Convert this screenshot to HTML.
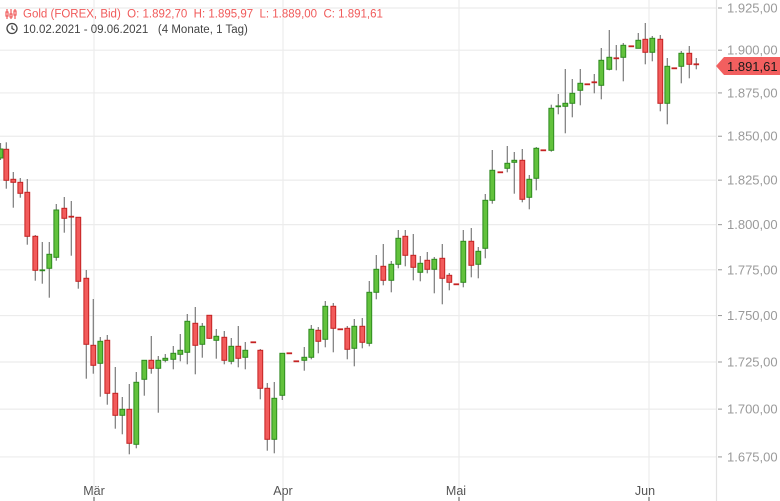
<!DOCTYPE html>
<html><head><meta charset="utf-8"><style>
html,body{margin:0;padding:0;background:#fff;}
svg{display:block;font-family:"Liberation Sans",sans-serif;}
</style></head><body>
<svg id="c" width="780" height="501" viewBox="0 0 780 501" xmlns="http://www.w3.org/2000/svg">
<g id="grid" stroke="#ececec" stroke-width="1.2"></g>
<line x1="716.5" y1="0" x2="716.5" y2="501" stroke="#e2e2e2" stroke-width="1.2"/>
<g id="candles"></g>
<g id="axis" font-size="13" fill="#9a9a9a"></g>
<g font-size="12.5" fill="#555" text-anchor="middle">
<text x="94" y="495">Mär</text><text x="283" y="495">Apr</text><text x="456" y="495">Mai</text><text x="645" y="495">Jun</text>
</g>
<g stroke="#555" stroke-width="1"><line x1="94" y1="497" x2="94" y2="501"/><line x1="283" y1="497" x2="283" y2="501"/><line x1="459" y1="497" x2="459" y2="501"/><line x1="649" y1="497" x2="649" y2="501"/></g>
<polygon points="716,66 724,57 780,57 780,75 724,75" fill="#f25f5f"/>
<text x="727" y="71" font-size="13" fill="#1a1a1a">1.891,61</text>
<g stroke="#f05a5a" stroke-width="1.2" fill="none">
<line x1="7" y1="9" x2="7" y2="19"/><line x1="11" y1="9" x2="11" y2="19"/><line x1="15" y1="9" x2="15" y2="19"/>
<rect x="6" y="12" width="2" height="4" fill="#fff"/><rect x="10" y="14" width="2" height="3" fill="#fff"/><rect x="14" y="11" width="2" height="4" fill="#fff"/>
</g>
<text x="23" y="17.5" font-size="11.5" fill="#f05a5a">Gold (FOREX, Bid)&#160; O: 1.892,70&#160; H: 1.895,97&#160; L: 1.889,00&#160; C: 1.891,61</text>
<circle cx="12" cy="28.5" r="5" fill="none" stroke="#444" stroke-width="1.3"/>
<polyline points="12,25.5 12,28.5 14.5,30" fill="none" stroke="#444" stroke-width="1.2"/>
<text x="23" y="33" font-size="11.5" fill="#444">10.02.2021 - 09.06.2021&#160;&#160; (4 Monate, 1 Tag)</text>
</svg>
<script>
var NS="http://www.w3.org/2000/svg";
function el(p,n,a){var e=document.createElementNS(NS,n);for(var k in a)e.setAttribute(k,a[k]);p.appendChild(e);return e;}
var grid=document.getElementById("grid"),axis=document.getElementById("axis");
for(var i=0;i<11;i++){var p=1925-25*i;var y=8+3227*Math.log(1925/p);
el(grid,"line",{x1:0,y1:y,x2:716,y2:y});
el(axis,"line",{x1:718,y1:y,x2:722,y2:y,stroke:"#999","stroke-width":1});
var t=el(axis,"text",{x:727,y:y+4.5});t.textContent="1."+String(p).slice(1)+",00";}
[94,283,459,649].forEach(function(x){el(grid,"line",{x1:x,y1:0,x2:x,y2:501});});
var D=[
[0.5,149,158,143,160,'g'],[6.3,149.3,180.3,142.3,188.7,'r'],[13.3,179.3,182.3,172,207.7,'r'],[20.3,182.3,193.3,178,197.7,'r'],
[27.3,192.3,236.3,179,244.7,'r'],[35.3,236.3,270.3,235,280.7,'r'],[42.3,270.3,270.3,242,283.7,'g'],[49.3,254.3,268.3,242,297.7,'g'],
[56.3,210,257.3,204,260.7,'g'],[64.3,208.3,218.3,197,232.7,'r'],[71.3,216.7,216.7,201,255.7,'r'],[78.3,217.3,281.3,217,288.7,'r'],
[86.3,278.3,344.3,270,378.7,'r'],[93.3,345.3,365.3,299,373.7,'r'],[100.3,341.3,363.3,337,396.7,'g'],[107.3,340.3,393.3,335,404.7,'r'],
[115.3,393.3,415.3,367,428.7,'r'],[122.3,409.3,415.3,397,434.3,'g'],[129.3,409.3,443.3,384,454.3,'r'],[136.3,382.3,444.3,372,448.3,'g'],
[144.3,360.3,379.3,360,395.7,'g'],[151.3,360.3,368.3,336,373.7,'r'],[158.3,360.3,368.3,356,412.7,'g'],[165.3,358.3,360.3,354,362.3,'g'],
[173.3,353.3,359.3,346,369.3,'g'],[180.3,350.3,354.3,334,361.3,'g'],[187.3,321.3,352.3,314,364.3,'g'],[195.3,323.3,345.3,307,374.3,'r'],
[202.3,326.3,344.3,323,357.7,'g'],[209.3,315.3,338.3,315,339,'r'],[216.3,336.3,340.3,329,358.7,'g'],[224.3,337.3,360.3,331,364.3,'r'],
[231.3,346.3,361.3,338,364.3,'g'],[238.3,346.3,358.3,326,367.3,'r'],[245.3,350.3,357.3,342,369.3,'g'],[253.3,342.3,342.3,342.3,342.3,'r'],
[260.3,350.3,388.3,349,399.3,'r'],[267.3,388.3,439.3,383,450.7,'r'],[274.3,398.3,439.3,382,453.3,'g'],[282.3,353.3,395.3,353,400,'g'],
[289.3,353.3,353.3,353.3,353.3,'r'],[296.3,361.3,361.3,361.3,361.3,'r'],[304.3,357.3,360.3,347,370.7,'g'],[311.3,329.3,357.3,325,359.3,'g'],
[318.3,330.3,341.3,327,353.3,'r'],[325.3,306.3,339.3,301,347.3,'g'],[333.3,306.3,328.3,303,352.3,'r'],[340.3,329.3,329.3,329.3,329.3,'r'],
[347.3,328.3,349.3,326,359.3,'r'],[354.3,326.3,348.3,319,366.3,'g'],[362.3,326.3,342.3,318,348.3,'r'],[369.3,292.3,343.3,281,346.3,'g'],
[376.3,269.3,292.3,255,299.3,'g'],[383.3,266.3,280.3,244,285.3,'r'],[391.3,264.3,280.3,261,292.3,'g'],[398.3,238.3,264.3,230,268.3,'g'],
[405.3,236.3,255.3,230,266.3,'r'],[413.3,255.3,267.3,234,280.3,'r'],[420.3,263.3,272.3,256,281.3,'g'],[427.3,260.3,269.3,252,273.3,'r'],
[434.3,259.3,269.3,257,293.3,'g'],[442.3,258.3,278.3,244,304.3,'r'],[449.3,275.3,282.3,273,290.3,'r'],[456.3,284.3,284.3,284.3,284.3,'r'],
[463.3,241.3,282.3,230,287.3,'g'],[471.3,241.3,265.3,228,277.3,'r'],[478.3,251.3,264.3,247,278.3,'g'],[485.3,200.3,248.3,194,258.3,'g'],
[492.3,170.3,200.3,150,203.7,'g'],[500.3,172.3,172.3,172.3,172.3,'r'],[507.3,163.3,168.3,146,172.3,'g'],[514.3,160.3,162.3,152,193.7,'g'],
[522.3,160.3,199.3,149,202.3,'r'],[529.3,179.3,197.3,175,209.3,'g'],[536.3,148.3,178.3,147,190.3,'g'],[543.3,150.3,150.3,150.3,150.3,'r'],
[551.3,108.3,150.3,104.7,151.7,'g'],[558.3,106.3,107.3,94,114.3,'g'],[565.3,103.3,106.3,69,133.3,'g'],[572.3,93.3,103.3,79,117.3,'g'],
[580.3,83.3,90.3,69,105.3,'g'],[587.3,84.3,84.3,84.3,84.3,'r'],[594.3,82.3,82.3,74,93.3,'r'],[601.3,60.3,85.3,48,99.3,'g'],
[609.3,57.3,69.3,30,70.3,'g'],[616.3,58.3,58.3,45,70.3,'r'],[623.3,45.3,57.3,43,81.3,'g'],[631.3,46.3,46.3,46.3,46.3,'r'],
[638.3,40.3,48.3,33,48.3,'g'],[645.3,39.3,52.3,23,64.3,'r'],[652.3,38.3,52.3,36,61.3,'g'],[660.3,39.3,103.3,35,111.3,'r'],
[667.3,66.3,103.3,58,124.3,'g'],[674.3,68.3,68.3,68.3,68.3,'r'],[681.3,53.3,66.3,51,83.3,'g'],[689.3,53.3,64.3,46,78.3,'r'],
[696.3,64.3,64.3,58,69.3,'r']];
var g=document.getElementById("candles");
D.forEach(function(c){var x=c[0],g1=c[5]==='g';
var fill=g1?'#62c23c':'#f25b5b',st=g1?'#2e8a1e':'#c42222';
if(c[4]-c[3]>0.5)el(g,"line",{x1:x,y1:c[3],x2:x,y2:c[4],stroke:"#7a7a7a","stroke-width":1.2});
var h=c[2]-c[1];
if(h<1.5){el(g,"line",{x1:x-2.8,y1:c[1],x2:x+2.8,y2:c[1],stroke:st,"stroke-width":1.8});}
else el(g,"rect",{x:x-2.4,y:c[1],width:4.8,height:h,fill:fill,stroke:st,"stroke-width":1});
});
</script>
</body></html>
